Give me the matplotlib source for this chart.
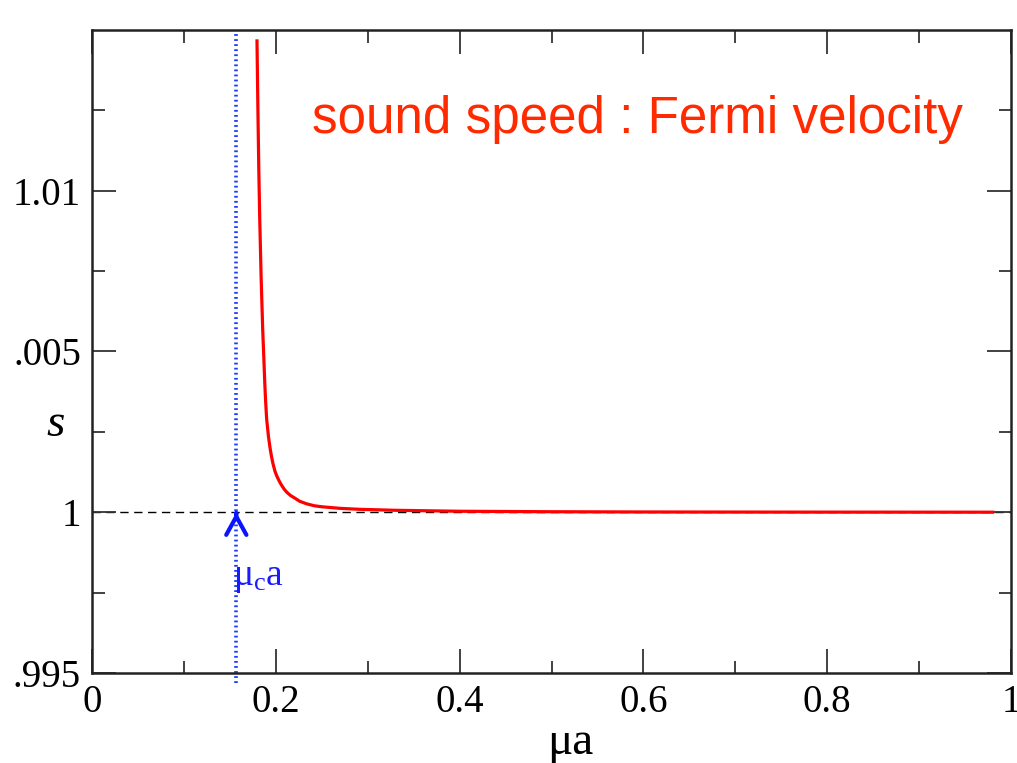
import matplotlib
matplotlib.use('Agg')
import matplotlib.pyplot as plt

plt.rcParams['font.family'] = ['Liberation Serif', 'DejaVu Serif']
plt.rcParams['mathtext.fontset'] = 'custom'
plt.rcParams['mathtext.rm'] = 'Liberation Serif'
plt.rcParams['mathtext.it'] = 'Liberation Serif:italic'

# Data
mu = [0.1795, 0.1805, 0.1815, 0.1825, 0.1840, 0.1857, 0.1870, 0.1880, 0.1888, 0.1900,
      0.1920, 0.1937, 0.1955, 0.1970, 0.1990, 0.2010, 0.2035, 0.2060, 0.2090,
      0.2120, 0.2160, 0.2200, 0.2260, 0.2336, 0.2420, 0.2500, 0.2700,
      0.2916, 0.3300, 0.4000, 0.5000, 0.6000, 0.7000, 0.8000, 0.9000, 0.9800]
s = [1.01466, 1.01250, 1.01060, 1.00910, 1.00730, 1.00570, 1.00475, 1.00400, 1.00350, 1.00290,
     1.00235, 1.00200, 1.00170, 1.00150, 1.00128, 1.00113, 1.00098, 1.00085, 1.00072,
     1.00062, 1.00052, 1.00045, 1.00034, 1.00026, 1.00020, 1.00017, 1.00012,
     1.00009, 1.00006, 1.00003, 1.000015, 1.000008, 1.000005, 1.000003, 1.000002, 1.000001]
mu_c = 0.157
s_ref = 1.0

x_ticks = [0, 0.2, 0.4, 0.6, 0.8, 1.0]
x_tick_labels = ['0', '0.2', '0.4', '0.6', '0.8', '1']
y_ticks = [0.995, 1.0, 1.005, 1.01]
y_tick_labels = ['.995', '1', '.005', '1.01']

fig = plt.figure(figsize=(10.17, 7.63), dpi=100)
ax = fig.add_axes([0.0905, 0.118, 0.9036, 0.8427])

ax.axhline(s_ref, color='black', lw=1.0, ls=(0, (6, 4)), zorder=1)
ax.axvline(mu_c, ymin=-0.015, ymax=1, color='#1a3cff', lw=2.6, ls=(0, (0.5, 0.9)),
           clip_on=False, zorder=2)
ax.plot(mu, s, color='#ff0000', lw=2.3, zorder=3, solid_joinstyle='round')

ax.annotate('', xy=(mu_c, s_ref), xytext=(0, -1), textcoords='offset points',
            arrowprops=dict(arrowstyle='->,head_length=0.6,head_width=0.33',
                            color='#0a14ff', lw=3, mutation_scale=22))
ax.text(mu_c - 0.004, 0.99775, r'$\mathrm{μ_c a}$', color='#1a1aff', fontsize=27,
        ha='left', va='baseline')

ax.text(0.2394, 0.8398, 'sound speed : Fermi velocity', transform=ax.transAxes,
        family=['Liberation Sans', 'DejaVu Sans'], color='#ff2a00', fontsize=36.8,
        ha='left', va='baseline')

ax.set_xlim(0, 1)
ax.set_ylim(0.995, 1.015)
ax.set_xticks(x_ticks)
ax.set_xticklabels(x_tick_labels)
ax.set_xticks([0.1, 0.3, 0.5, 0.7, 0.9], minor=True)
ax.set_yticks(y_ticks)
ax.set_yticklabels(y_tick_labels)
ax.set_yticks([0.9975, 1.0025, 1.0075, 1.0125], minor=True)

ax.tick_params(which='both', direction='in', top=True, right=True, labelsize=28,
               color='#333333')
ax.tick_params(which='major', length=17, width=1.3, pad=8)
ax.tick_params(which='minor', length=9, width=1.3)
for sp in ax.spines.values():
    sp.set_linewidth(1.8)
    sp.set_color('#222222')

ax.set_xlabel('μa', fontsize=34)
ax.xaxis.set_label_coords(0.52, -0.075)
ax.set_ylabel('s', fontsize=34, fontstyle='italic', rotation=0, va='center')
ax.yaxis.set_label_coords(-0.04, 0.386)

fig.savefig('out.png', dpi=100)
